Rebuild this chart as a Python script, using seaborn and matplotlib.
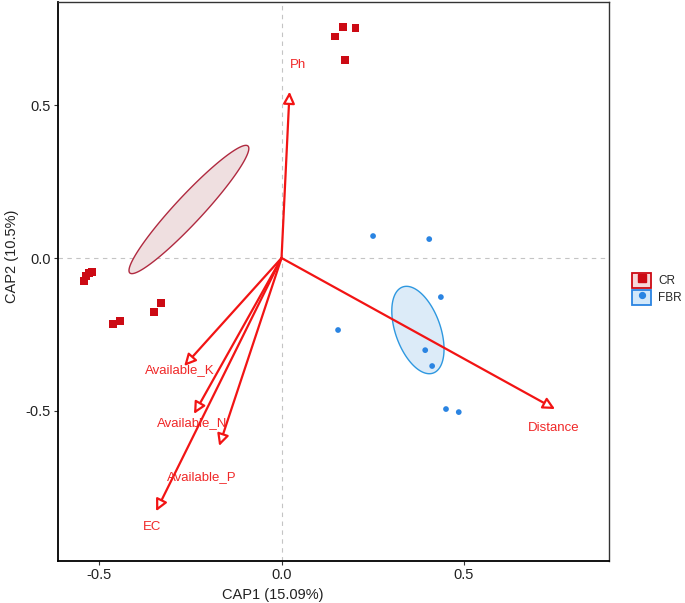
import numpy as np
import pandas as pd
import matplotlib
matplotlib.use("Agg")
import matplotlib.pyplot as plt
import seaborn as sns
from matplotlib.patches import Patch
from matplotlib.lines import Line2D
from matplotlib.legend_handler import HandlerTuple

# ---------------- data ----------------
groups = ["CR", "FBR"]
cr_x = [0.147, 0.169, 0.202, 0.174, -0.542, -0.536, -0.528, -0.520, -0.462, -0.443, -0.350, -0.331]
cr_y = [0.725, 0.757, 0.754, 0.649, -0.075, -0.059, -0.049, -0.046, -0.216, -0.207, -0.177, -0.148]
fbr_x = [0.251, 0.405, 0.437, 0.155, 0.394, 0.413, 0.451, 0.486]
fbr_y = [0.072, 0.062, -0.128, -0.236, -0.302, -0.354, -0.495, -0.505]

# ellipses: centre, semi-major vector, semi-minor (conjugate) vector, data units
ell_cx = [-0.254, 0.374]
ell_cy = [0.159, -0.236]
ell_major_dx = [0.162, 0.042]
ell_major_dy = [0.208, -0.141]
ell_minor_dx = [0.0275, 0.058]
ell_minor_dy = [-0.0305, 0.025]

env_names = ["Ph", "Distance", "Available_K", "Available_N", "Available_P", "EC"]
env_x = [0.022, 0.750, -0.267, -0.240, -0.171, -0.344]
env_y = [0.545, -0.495, -0.354, -0.511, -0.616, -0.830]
lab_x = [0.045, 0.745, -0.278, -0.246, -0.219, -0.356]
lab_y = [0.633, -0.557, -0.367, -0.542, -0.717, -0.881]

x_ticks = [-0.5, 0.0, 0.5]
x_ticklabels = ["-0.5", "0.0", "0.5"]
y_ticks = [-0.5, 0.0, 0.5]
y_ticklabels = ["-0.5", "0.0", "0.5"]
x_label = "CAP1 (15.09%)"
y_label = "CAP2 (10.5%)"

# ---------------- style ----------------
colors = {"CR": "#CC0A14", "FBR": "#2A84E2"}
edge_cols = {"CR": "#B02A40", "FBR": "#2E98E0"}
fill_cols = {"CR": "#EFDFE0", "FBR": "#DCEBF8"}
legend_fill = {"CR": "#F6D8DA", "FBR": "#D3E8FA"}
arrow_col = "#F21414"
label_col = "#F02828"

sns.set_style("white")
plt.rcParams["font.family"] = ["Liberation Sans", "DejaVu Sans"]

fig = plt.figure(figsize=(6.85, 6.03), dpi=100)
ax = fig.add_axes([58 / 685, 42 / 603, 551 / 685, 559 / 603])

df = pd.DataFrame({
    "CAP1": cr_x + fbr_x,
    "CAP2": cr_y + fbr_y,
    "Group": ["CR"] * len(cr_x) + ["FBR"] * len(fbr_x),
})

t = np.linspace(0, 2 * np.pi, 240)
for i, g in enumerate(groups):
    ex = ell_cx[i] + ell_major_dx[i] * np.cos(t) + ell_minor_dx[i] * np.sin(t)
    ey = ell_cy[i] + ell_major_dy[i] * np.cos(t) + ell_minor_dy[i] * np.sin(t)
    ax.fill(ex, ey, facecolor=fill_cols[g], edgecolor=edge_cols[g], lw=1.0, zorder=2)

ax.axhline(0, ls=(0, (4, 4)), color="#C4C4C4", lw=0.8, zorder=1)
ax.axvline(0, ls=(0, (4, 4)), color="#C4C4C4", lw=0.8, zorder=1)

for name, ex, ey, lx, ly in zip(env_names, env_x, env_y, lab_x, lab_y):
    ax.annotate("", xy=(ex, ey), xytext=(0, 0),
                arrowprops=dict(arrowstyle="-|>,head_length=0.5,head_width=0.25",
                                fc="white", ec=arrow_col, lw=1.6,
                                mutation_scale=14, shrinkA=0, shrinkB=0),
                zorder=3)
    ax.text(lx, ly, name, color=label_col, fontsize=9.5, ha="center", va="center",
            zorder=5)

sns.scatterplot(data=df, x="CAP1", y="CAP2", hue="Group", style="Group",
                size="Group", sizes={"CR": 28, "FBR": 17},
                markers={"CR": "s", "FBR": "o"}, palette=colors,
                edgecolor="none", linewidth=0, legend=False, ax=ax, zorder=4)

ax.set_xlim(-0.613, 0.898)
ax.set_ylim(-0.993, 0.839)
ax.set_xticks(x_ticks)
ax.set_xticklabels(x_ticklabels)
ax.set_yticks(y_ticks)
ax.set_yticklabels(y_ticklabels)
ax.set_xlabel(x_label, fontsize=10.5, color="#222222")
ax.set_ylabel(y_label, fontsize=10.5, color="#222222")
ax.xaxis.set_label_coords(0.390, -0.048)
ax.yaxis.set_label_coords(-0.071, 0.545)
ax.tick_params(axis="both", which="both", direction="out", length=3, width=0.8,
               colors="#333333", labelsize=10.5, labelcolor="#222222", pad=2,
               bottom=True, left=True)
for side in ["top", "right"]:
    ax.spines[side].set_color("#333333")
    ax.spines[side].set_linewidth(1.0)
for side in ["left", "bottom"]:
    ax.spines[side].set_color("#000000")
    ax.spines[side].set_linewidth(1.3)
ax.grid(False)

handles = []
for g, mk, ms in zip(groups, ["s", "o"], [5.5, 4.2]):
    handles.append((Patch(facecolor=legend_fill[g], edgecolor=colors[g], lw=1.3),
                    Line2D([], [], marker=mk, color=colors[g], ls="none", ms=ms)))
leg = ax.legend(handles, groups, handler_map={tuple: HandlerTuple(ndivide=1, pad=0)},
                loc="center left", bbox_to_anchor=(1.042, 0.487), frameon=False,
                handlelength=1.6, handleheight=1.6, handletextpad=0.6,
                labelspacing=0.15, borderaxespad=0, borderpad=0, fontsize=8.5)

fig.savefig("out.png", dpi=100)
